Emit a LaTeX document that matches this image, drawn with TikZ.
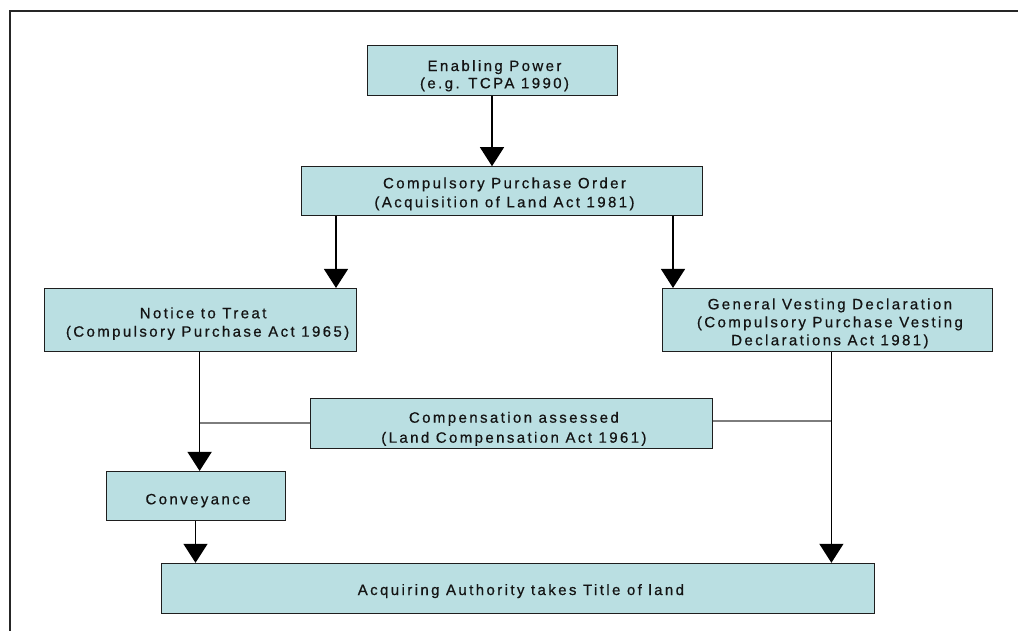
\documentclass[tikz,border=0pt]{standalone}
\usepackage{fontspec}
\setmainfont{Liberation Sans}[LetterSpace=16, FakeBold=0.6]
\usetikzlibrary{arrows.meta}

\definecolor{boxfill}{RGB}{186,223,226}
\definecolor{boxedge}{RGB}{30,30,30}
\definecolor{linkgrey}{RGB}{125,125,125}
\definecolor{inktext}{RGB}{20,20,20}

% centred lines of box text, lowered by #1 pt, line pitch #2 pt
\newcommand{\boxtext}[3]{\raisebox{-#1pt}[\height][\depth]{\fontsize{15pt}{#2pt}\selectfont\begin{tabular}{@{\hspace{5pt}}c@{}}#3\end{tabular}}}

\tikzset{
  stage/.style={draw=boxedge, line width=1pt, fill=boxfill, text=inktext, inner sep=0pt},
  flow/.style={draw=black, line width=1.4pt, -{Triangle[length=19pt,width=24pt]}},
  link/.style={draw=linkgrey, line width=1.6pt},
  frame/.style={draw=black!85, line width=2pt}
}

\begin{document}
\begin{tikzpicture}[x=1pt,y=-1pt]
  \useasboundingbox (0,0) rectangle (1018,631);

  % page frame
  \draw[frame] (9.5,631) -- (9.5,11) -- (1018,11);

  % stages
  \node[stage, minimum width=250pt, minimum height=50pt] (power) at (492,70.5)
    {\boxtext{5.7}{17.3}{Enabling Power\\(e.g. TCPA 1990)}};
  \node[stage, minimum width=401pt, minimum height=49pt] (cpo) at (502,191.2)
    {\boxtext{2.8}{19}{Compulsory Purchase Order\\(Acquisition of Land Act 1981)}};
  \node[stage, minimum width=312pt, minimum height=63.5pt] (ntt) at (200.6,320.2)
    {\boxtext{3.6}{18.4}{Notice to Treat\\\hspace{9pt}(Compulsory Purchase Act 1965)}};
  \node[stage, minimum width=330pt, minimum height=63.5pt] (gvd) at (827.4,320.2)
    {\boxtext{3.5}{18}{General Vesting Declaration\\(Compulsory Purchase Vesting\\Declarations Act 1981)}};
  \node[stage, minimum width=402pt, minimum height=49.6pt] (comp) at (511.4,423.2)
    {\boxtext{5.5}{20}{Compensation assessed\\(Land Compensation Act 1961)}};
  \node[stage, minimum width=179pt, minimum height=49.5pt] (conv) at (195.5,496.2)
    {\boxtext{4.5}{18}{Conveyance}};
  \node[stage, minimum width=713pt, minimum height=50pt] (acq) at (518.4,588.3)
    {\boxtext{3.1}{18}{Acquiring Authority takes Title of land}};

  % connector start points
  \coordinate (lsplit) at ([xshift=35pt]cpo.south west);
  \coordinate (rsplit) at ([xshift=-30pt]cpo.south east);
  \coordinate (gdrop) at ([xshift=4pt]gvd.south);

  % flow arrows
  \draw[flow] (power.south) -- (power.south |- cpo.north);
  \draw[flow] (lsplit) -- (lsplit |- ntt.north);
  \draw[flow] (rsplit) -- (rsplit |- gvd.north);
  \draw[flow] ([xshift=-1pt]ntt.south) -- ([xshift=-1pt]ntt.south |- conv.north);
  \draw[flow] (conv.south) -- (conv.south |- acq.north);
  \draw[flow] (gdrop) -- (gdrop |- acq.north);

  % compensation links
  \draw[link] (comp.west) -- ([xshift=-1pt]comp.west -| ntt.south);
  \draw[link] ([yshift=2pt]comp.east) -- ([yshift=2pt]comp.east -| gdrop);
\end{tikzpicture}
\end{document}
